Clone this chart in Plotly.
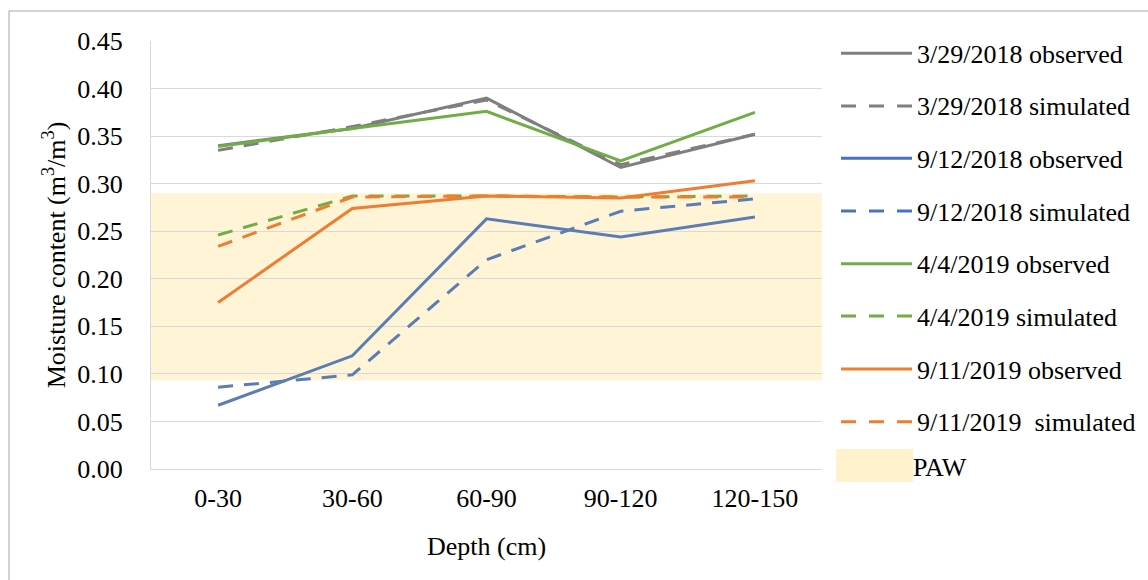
import plotly.graph_objects as go

depths = ["0-30", "30-60", "60-90", "90-120", "120-150"]

obs_2018_03_29 = [0.340, 0.358, 0.390, 0.317, 0.352]
sim_2018_03_29 = [0.335, 0.360, 0.388, 0.320, 0.352]
obs_2018_09_12 = [0.067, 0.119, 0.263, 0.244, 0.265]
sim_2018_09_12 = [0.086, 0.099, 0.220, 0.271, 0.284]
obs_2019_04_04 = [0.339, 0.358, 0.376, 0.324, 0.375]
sim_2019_04_04 = [0.246, 0.287, 0.287, 0.286, 0.287]
obs_2019_09_11 = [0.175, 0.274, 0.287, 0.285, 0.303]
sim_2019_09_11 = [0.234, 0.286, 0.287, 0.286, 0.286]

paw_low = 0.093
paw_high = 0.290

series_names = [
    "3/29/2018 observed", "3/29/2018 simulated",
    "9/12/2018 observed", "9/12/2018 simulated",
    "4/4/2019 observed", "4/4/2019 simulated",
    "9/11/2019 observed", "9/11/2019  simulated",
]
series_values = [
    obs_2018_03_29, sim_2018_03_29,
    obs_2018_09_12, sim_2018_09_12,
    obs_2019_04_04, sim_2019_04_04,
    obs_2019_09_11, sim_2019_09_11,
]
line_colors = ["#7F7F7F", "#7F7F7F", "#5A7DB5", "#5A7DB5",
               "#70AD47", "#70AD47", "#ED7D31", "#ED7D31"]
legend_colors = ["#7F7F7F", "#7F7F7F", "#4472C4", "#4472C4",
                 "#70AD47", "#70AD47", "#ED7D31", "#ED7D31"]
dashes = ["solid", "15px,11px"] * 4

FONT = "Liberation Serif"
FS = 26
W, H = 1148, 580
L, R, T, B = 151, 326, 41, 111
PW, PH = W - L - R, H - T - B


def px(x):
    return (x - L) / PW


def py(y):
    return (H - B - y) / PH


fig = go.Figure()

order = [1, 0, 3, 2, 5, 4, 7, 6]
for i in order:
    fig.add_trace(go.Scatter(
        x=depths, y=series_values[i], mode="lines", name=series_names[i],
        line=dict(color=line_colors[i], width=3, dash=dashes[i]),
        showlegend=False,
    ))

shapes = []
shapes.append(dict(type="rect", xref="paper", yref="y", x0=0, x1=1,
                   y0=paw_low, y1=paw_high, line=dict(width=0),
                   fillcolor="rgba(255,230,153,0.4)", layer="between"))
shapes.append(dict(type="rect", xref="paper", yref="paper",
                   x0=px(9), x1=px(W + 5), y0=py(H + 5), y1=py(11),
                   line=dict(color="#A6A6A6", width=1), layer="below"))

annotations = []
legend_rows = [53.3, 106, 158.3, 211, 263.7, 316, 369, 421.7]
for i, yy in enumerate(legend_rows):
    shapes.append(dict(type="line", xref="paper", yref="paper",
                       x0=px(841), x1=px(912), y0=py(yy), y1=py(yy),
                       line=dict(color=legend_colors[i], width=3,
                                 dash=("solid" if i % 2 == 0 else "15px,13px"))))
    annotations.append(dict(xref="paper", yref="paper", x=px(915), y=py(yy + 1),
                            xanchor="left", yanchor="middle", showarrow=False,
                            text=series_names[i].replace("  ", "&nbsp; "),
                            font=dict(family=FONT, size=FS, color="black")))
shapes.append(dict(type="rect", xref="paper", yref="paper",
                   x0=px(836), x1=px(913), y0=py(482), y1=py(449),
                   line=dict(width=0), fillcolor="#FFF2CC"))
annotations.append(dict(xref="paper", yref="paper", x=px(911), y=py(467),
                        xanchor="left", yanchor="middle", showarrow=False,
                        text="PAW", font=dict(family=FONT, size=FS, color="black")))

fig.update_layout(
    width=W, height=H,
    margin=dict(l=L, r=R, t=T, b=B, pad=0),
    paper_bgcolor="white", plot_bgcolor="rgba(0,0,0,0)",
    font=dict(family=FONT, size=FS, color="black"),
    showlegend=False,
    shapes=shapes,
    annotations=annotations,
    xaxis=dict(
        type="category", range=[-0.5, 4.5],
        showgrid=False, showline=True, linecolor="#D9D9D9", linewidth=1,
        ticks="", ticklabelstandoff=6,
        tickfont=dict(family=FONT, size=FS, color="black"),
        title=dict(text="Depth (cm)", standoff=24,
                   font=dict(family=FONT, size=FS, color="black")),
        zeroline=False,
    ),
    yaxis=dict(
        range=[0, 0.45], dtick=0.05, tickformat=".2f",
        showgrid=True, gridcolor="#D9D9D9", gridwidth=1,
        showline=True, linecolor="#D9D9D9", linewidth=1,
        ticks="", ticklabelstandoff=22,
        tickfont=dict(family=FONT, size=FS, color="black"),
        title=dict(text="Moisture content (m<sup>3</sup>/m<sup>3</sup>)", standoff=4,
                   font=dict(family=FONT, size=FS, color="black")),
        zeroline=False,
    ),
)

fig.write_html("out.html")
